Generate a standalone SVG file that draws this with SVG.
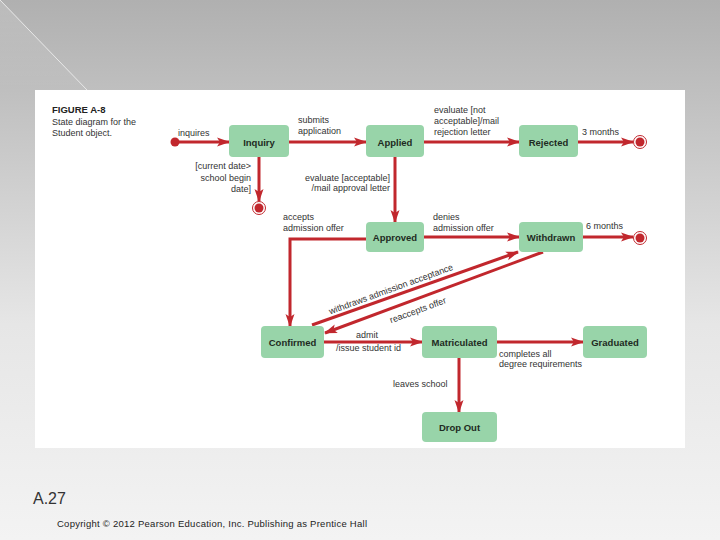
<svg xmlns="http://www.w3.org/2000/svg" width="720" height="540" viewBox="0 0 720 540">
<defs>
<linearGradient id="bg" x1="0" y1="0" x2="0" y2="1">
<stop offset="0" stop-color="#b0b0b0"/>
<stop offset="0.2" stop-color="#c2c2c2"/>
<stop offset="0.6" stop-color="#e6e6e6"/>
<stop offset="1" stop-color="#f3f3f3"/>
</linearGradient>
<linearGradient id="tri" x1="0" y1="0" x2="0" y2="1">
<stop offset="0" stop-color="#ffffff" stop-opacity="0.15"/>
<stop offset="1" stop-color="#ffffff" stop-opacity="0"/>
</linearGradient>
<marker id="ah" markerUnits="userSpaceOnUse" markerWidth="14" markerHeight="10" refX="12" refY="5" orient="auto">
<path d="M0,0.5 L13,5 L0,9.5 L3,5 z" fill="#c1272d"/>
</marker>
<style>
.node rect{fill:#98d4a9;}
.node text{font-family:"Liberation Sans",Arial,sans-serif;font-size:9.5px;font-weight:bold;fill:#1e2b22;text-anchor:middle;}
.lbl{font-family:"Liberation Sans",Arial,sans-serif;font-size:9px;fill:#333;}
.conn line,.conn polyline{stroke:#c1272d;stroke-width:3;fill:none;marker-end:url(#ah);}
.start{fill:#c1272d;}
.end circle.o{fill:#fff;stroke:#c1272d;stroke-width:1;}
.end circle.i{fill:#c1272d;}
</style>
</defs>
<rect x="0" y="0" width="720" height="540" fill="url(#bg)"/>
<polygon points="0,0 87,90 0,90" fill="url(#tri)"/>
<line x1="0" y1="0" x2="87" y2="90" stroke="#e8e8e8" stroke-width="1"/>
<rect x="35" y="90" width="650" height="358" fill="#ffffff"/>

<g id="title">
<text x="52" y="113" font-family="'Liberation Sans',Arial,sans-serif" font-size="9.5" font-weight="bold" fill="#222">FIGURE A-8</text>
<text x="52" y="125" class="lbl" font-size="9.5">State diagram for the</text>
<text x="52" y="136" class="lbl" font-size="9.5">Student object.</text>
</g>

<g id="connectors" class="conn">
<line x1="179" y1="142" x2="229" y2="142"/>
<line x1="289" y1="142" x2="366" y2="142"/>
<line x1="424" y1="142" x2="519" y2="142"/>
<line x1="578" y1="142" x2="633" y2="142"/>
<line x1="259" y1="157" x2="259" y2="201"/>
<line x1="395" y1="157" x2="395" y2="222"/>
<line x1="424" y1="237" x2="519" y2="237"/>
<line x1="583" y1="237" x2="633" y2="237"/>
<polyline points="366,239 290,239 290,326"/>
<line x1="312" y1="325" x2="518" y2="252"/>
<line x1="543" y1="252" x2="325" y2="333"/>
<line x1="324" y1="342" x2="422" y2="342"/>
<line x1="497" y1="342" x2="583" y2="342"/>
<line x1="459" y1="358" x2="459" y2="412"/>
</g>

<g id="start"><circle class="start" cx="175" cy="142" r="4.5"/></g>
<g id="end1" class="end"><circle class="o" cx="259" cy="208" r="6.5"/><circle class="i" cx="259" cy="208" r="4.5"/></g>
<g id="end2" class="end"><circle class="o" cx="640" cy="142" r="6.5"/><circle class="i" cx="640" cy="142" r="4.5"/></g>
<g id="end3" class="end"><circle class="o" cx="640" cy="238" r="6.5"/><circle class="i" cx="640" cy="238" r="4.5"/></g>

<g id="inquiry" class="node"><rect x="229" y="125" width="60" height="32" rx="4"/><text x="259" y="145.5">Inquiry</text></g>
<g id="applied" class="node"><rect x="366" y="125" width="58" height="32" rx="4"/><text x="395" y="145.5">Applied</text></g>
<g id="rejected" class="node"><rect x="519" y="125" width="59" height="32" rx="4"/><text x="548.5" y="145.5">Rejected</text></g>
<g id="approved" class="node"><rect x="366" y="222" width="58" height="30" rx="4"/><text x="395" y="240.5">Approved</text></g>
<g id="withdrawn" class="node"><rect x="519" y="222" width="64" height="30" rx="4"/><text x="551" y="240.5">Withdrawn</text></g>
<g id="confirmed" class="node"><rect x="261" y="326" width="63" height="32" rx="4"/><text x="292.5" y="345.5">Confirmed</text></g>
<g id="matriculated" class="node"><rect x="422" y="326" width="75" height="32" rx="4"/><text x="459.5" y="345.5">Matriculated</text></g>
<g id="graduated" class="node"><rect x="583" y="326" width="64" height="32" rx="4"/><text x="615" y="345.5">Graduated</text></g>
<g id="dropout" class="node"><rect x="422" y="412" width="75" height="30" rx="4"/><text x="459.5" y="430.5">Drop Out</text></g>

<g id="labels">
<text class="lbl" x="178" y="136">inquires</text>
<text class="lbl" x="251" y="169" text-anchor="end">[current date&gt;</text>
<text class="lbl" x="251" y="181" text-anchor="end">school begin</text>
<text class="lbl" x="251" y="192" text-anchor="end">date]</text>
<text class="lbl" x="298" y="123">submits</text>
<text class="lbl" x="298" y="134">application</text>
<text class="lbl" x="434" y="113">evaluate [not</text>
<text class="lbl" x="434" y="124">acceptable]/mail</text>
<text class="lbl" x="434" y="135">rejection letter</text>
<text class="lbl" x="390" y="181" text-anchor="end">evaluate [acceptable]</text>
<text class="lbl" x="390" y="191" text-anchor="end">/mail approval letter</text>
<text class="lbl" x="582" y="135">3 months</text>
<text class="lbl" x="283" y="220">accepts</text>
<text class="lbl" x="283" y="231">admission offer</text>
<text class="lbl" x="433" y="220">denies</text>
<text class="lbl" x="433" y="231">admission offer</text>
<text class="lbl" x="586" y="229">6 months</text>
<text class="lbl" x="392" y="292" text-anchor="middle" transform="rotate(-20 392 292)">withdraws admission acceptance</text>
<text class="lbl" x="419" y="313" text-anchor="middle" transform="rotate(-20 419 313)">reaccepts offer</text>
<text class="lbl" x="367" y="338" text-anchor="middle">admit</text>
<text class="lbl" x="336" y="351">/issue student id</text>
<text class="lbl" x="499" y="357">completes all</text>
<text class="lbl" x="499" y="367">degree requirements</text>
<text class="lbl" x="393" y="387">leaves school</text>
</g>

<text x="33" y="504" font-family="'Liberation Sans',Arial,sans-serif" font-size="16" fill="#333">A.27</text>
<text x="57" y="527" font-family="'Liberation Sans',Arial,sans-serif" font-size="9.5" fill="#222" textLength="310" lengthAdjust="spacing">Copyright © 2012 Pearson Education, Inc. Publishing as Prentice Hall</text>
</svg>
